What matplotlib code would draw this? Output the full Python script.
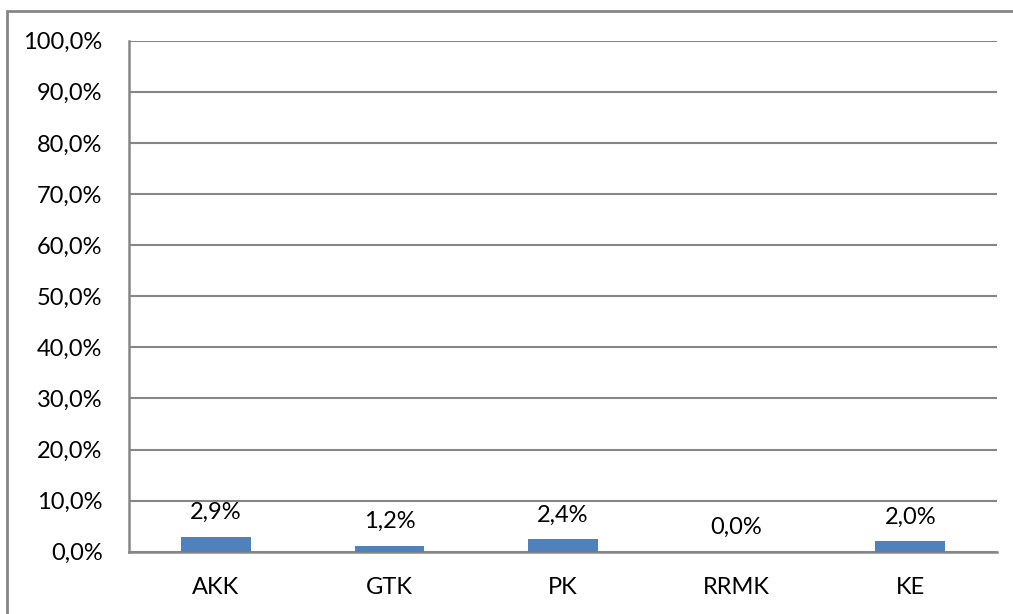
import numpy as np
import matplotlib.pyplot as plt
from matplotlib.patches import Rectangle

categories = ['AKK', 'GTK', 'PK', 'RRMK', 'KE']
values = [2.9, 1.2, 2.4, 0.0, 2.0]  # percent
labels = ['2,9%', '1,2%', '2,4%', '0,0%', '2,0%']
yticks = np.arange(0, 101, 10)
ytick_labels = ['%d,0%%' % t for t in yticks]

plt.rcParams['font.family'] = ['Lato', 'DejaVu Sans']

fig = plt.figure(figsize=(10.13, 6.14), dpi=100)
ax = fig.add_axes([129/1013, 1-551.7/614, (997-129)/1013, (551.7-40.7)/614])

x = np.arange(len(categories))
ax.bar(x, values, width=0.4, color='#4F81BD', zorder=3)
for xi, v, lab in zip(x, values, labels):
    ax.annotate(lab, (xi, v), xytext=(0, 10), textcoords='offset points',
                ha='center', va='bottom', fontsize=17, color='black')

ax.set_xlim(-0.5, len(categories)-0.5)
ax.set_ylim(0, 100)
ax.set_yticks(yticks)
ax.set_yticklabels(ytick_labels, fontsize=17)
ax.set_xticks(x)
ax.set_xticklabels(categories, fontsize=17)
ax.tick_params(axis='y', length=0, pad=19)
ax.tick_params(axis='x', length=0, pad=18.5)
ax.yaxis.grid(True, color='#868686', linewidth=1.5, zorder=0)
for s in ['top', 'right']:
    ax.spines[s].set_visible(False)
ax.spines['left'].set_color('#868686')
ax.spines['bottom'].set_color('#868686')
ax.spines['left'].set_linewidth(1.8)
ax.spines['bottom'].set_linewidth(1.8)

# chart area border (cropped at right/bottom)
fig.add_artist(Rectangle((7/1013, -0.1), 1.1, (614-11)/614 + 0.1,
                         transform=fig.transFigure, fill=False,
                         edgecolor='#868686', linewidth=2))

fig.savefig('out.png', dpi=100)
